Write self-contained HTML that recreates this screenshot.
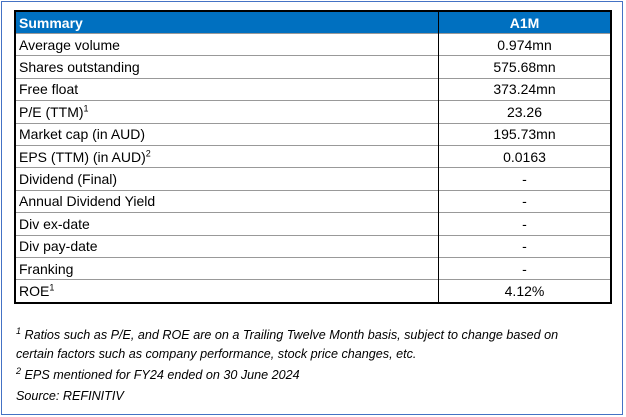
<!DOCTYPE html>
<html><head><meta charset="utf-8"><style>
body{margin:0;width:626px;height:417px;background:#fff;position:relative;overflow:hidden;font-family:"Liberation Sans",sans-serif;}
.frame{position:absolute;left:1px;top:1px;width:620px;height:412px;border:1px solid #4472c4;}
table{position:absolute;left:14px;top:10px;width:598px;border-collapse:collapse;border:2px solid #000;font-size:14px;color:#000;}
td{height:21.4px;padding:0 0 0 3px;border-top:1px solid #999;line-height:20px;}
td.v{text-align:center;border-left:1px solid #000;width:171px;padding:0;}
tr.h td{background:#0070c0;color:#fff;font-weight:bold;border-top:none;height:21px;}
sup{font-size:9px;line-height:0;}
.fn{position:absolute;left:16px;font-size:12.6px;font-style:italic;color:#000;white-space:nowrap;}
</style></head><body>
<div class="frame"></div>
<table>
<tr class="h"><td>Summary</td><td class="v">A1M</td></tr>
<tr><td>Average volume</td><td class="v">0.974mn</td></tr>
<tr><td>Shares outstanding</td><td class="v">575.68mn</td></tr>
<tr><td>Free float</td><td class="v">373.24mn</td></tr>
<tr><td>P/E (TTM)<sup>1</sup></td><td class="v">23.26</td></tr>
<tr><td>Market cap (in AUD)</td><td class="v">195.73mn</td></tr>
<tr><td>EPS (TTM) (in AUD)<sup>2</sup></td><td class="v">0.0163</td></tr>
<tr><td>Dividend (Final)</td><td class="v">-</td></tr>
<tr><td>Annual Dividend Yield</td><td class="v">-</td></tr>
<tr><td>Div ex-date</td><td class="v">-</td></tr>
<tr><td>Div pay-date</td><td class="v">-</td></tr>
<tr><td>Franking</td><td class="v">-</td></tr>
<tr><td>ROE<sup>1</sup></td><td class="v">4.12%</td></tr>
</table>
<div class="fn" style="top:328px"><sup>1</sup> Ratios such as P/E, and ROE are on a Trailing Twelve Month basis, subject to change based on</div>
<div class="fn" style="top:347px">certain factors such as company performance, stock price changes, etc.</div>
<div class="fn" style="top:368px"><sup>2</sup> EPS mentioned for FY24 ended on 30 June 2024</div>
<div class="fn" style="top:389px">Source: REFINITIV</div>
</body></html>
